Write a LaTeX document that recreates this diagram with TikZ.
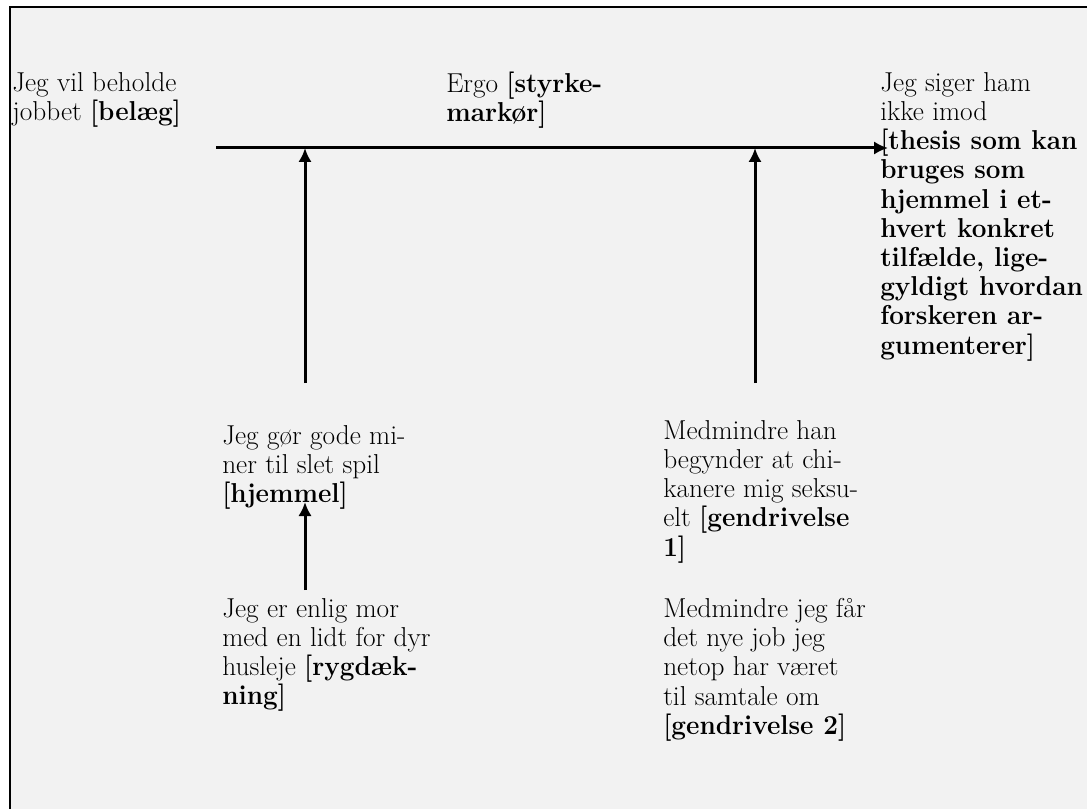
\documentclass[tikz,border=0pt]{standalone}
\usepackage{fontspec}
\setmainfont{Latin Modern Roman}[BoldFeatures={FakeStretch=0.955}]
\usepackage{tikz}
\usetikzlibrary{arrows.meta}
\usepackage{xcolor}
\definecolor{panelgray}{RGB}{242,242,242}

\begin{document}
\begin{tikzpicture}[x=0.75pt,y=0.75pt,yscale=-1,xscale=1,
  argtext/.style={anchor=north west, inner sep=0.75pt, align=left, font=\fontsize{20.5}{21.9}\selectfont},
  argarrow/.style={line width=2.25pt, -{Latex[length=10.5pt,width=10pt]}}]
\useasboundingbox (0,0) rectangle (1087,809);

%Background panel
\fill [white] (0,0) rectangle (1087,809);
\fill [panelgray] (10,7) rectangle (1087,809);
\draw [line width=1.5] (10,809) -- (10,7) -- (1087,7);

% Text Node
\node [argtext] (belaeg) at (11,71) {Jeg vil beholde\\jobbet \textbf{[belæg]}};
% Text Node
\node [argtext] (ergo) at (445,71) {Ergo \textbf{[styrke-}\\\textbf{markør]}};
% Text Node
\node [argtext] (thesis) at (879,71) {Jeg siger ham\\ikke imod\\\textbf{[thesis som kan}\\\textbf{bruges som}\\\textbf{hjemmel i et-}\\\textbf{hvert konkret}\\\textbf{tilfælde, lige-}\\\textbf{gyldigt hvordan}\\\textbf{forskeren ar-}\\\textbf{gumenterer]}};
% Text Node
\node [argtext] (hjemmel) at (221,424) {Jeg gør gode mi-\\ner til slet spil\\\textbf{[hjemmel]}};
% Text Node
\node [argtext] (rygdaekning) at (221,597) {Jeg er enlig mor\\med en lidt for dyr\\husleje \textbf{[rygdæk-}\\\textbf{ning]}};
% Text Node
\node [argtext] (gendr1) at (662,419) {Medmindre han\\begynder at chi-\\kanere mig seksu-\\elt \textbf{[gendrivelse}\\\textbf{1]}};
% Text Node
\node [argtext] (gendr2) at (662,597) {Medmindre jeg får\\det nye job jeg\\netop har været\\til samtale om\\\textbf{[gendrivelse 2]}};

%Arrow ends
\coordinate (claimstart) at (216,148);
\coordinate (claimend) at (888,148);
\coordinate (warranttail) at (305,383);
\coordinate (rebuttaltail) at (755,383);
\coordinate (backingtail) at (305,590);
\coordinate (backinghead) at (305,502);

%Straight Lines
\draw [argarrow] (claimstart) -- (claimend);
%Straight Lines
\draw [argarrow] (warranttail) -- (warranttail |- claimstart);
%Straight Lines
\draw [argarrow] (rebuttaltail) -- (rebuttaltail |- claimstart);
%Straight Lines
\draw [argarrow] (backingtail) -- (backinghead);

\end{tikzpicture}
\end{document}
